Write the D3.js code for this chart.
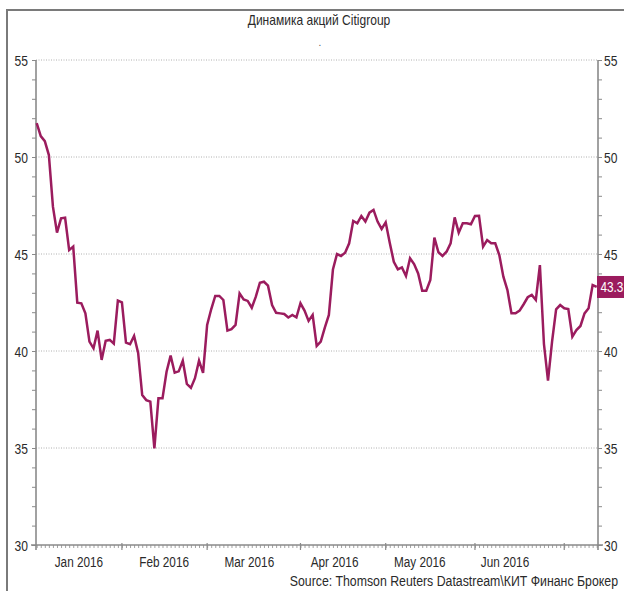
<!DOCTYPE html>
<html>
<head>
<meta charset="utf-8">
<script src="https://cdn.jsdelivr.net/npm/d3@7"></script>
<style>
  html, body { margin: 0; padding: 0; background: #fff; }
  svg { display: block; }
  text { font-family: "Liberation Sans", Arial, sans-serif; }
</style>
</head>
<body>
<svg id="chart" width="624" height="591"></svg>
<script>
// Citigroup daily close, weekdays from 1 Jan 2016 to 13 Jul 2016 (USD)
const prices = [
  51.75, 51.08, 50.82, 50.10, 47.44, 46.10, 46.84, 46.87, 45.20, 45.38,
  42.49, 42.46, 41.94, 40.48, 40.14, 41.05, 39.54, 40.53, 40.57, 40.38,
  42.60, 42.51, 40.43, 40.35, 40.78, 39.90, 37.73, 37.47, 37.39, 34.98,
  37.56, 37.56, 38.93, 39.76, 38.88, 38.95, 39.50, 38.30, 38.10, 38.60,
  39.50, 38.87, 41.34, 42.15, 42.84, 42.84, 42.63, 41.05, 41.13, 41.34,
  42.97, 42.66, 42.58, 42.23, 42.80, 43.52, 43.57, 43.37, 42.37, 41.97,
  41.94, 41.91, 41.73, 41.86, 41.73, 42.46, 42.08, 41.55, 41.86, 40.26,
  40.48, 41.20, 41.86, 44.20, 45.00, 44.90, 45.07, 45.55, 46.70, 46.58,
  46.96, 46.67, 47.13, 47.27, 46.67, 46.29, 46.63, 45.58, 44.60, 44.21,
  44.31, 43.87, 44.78, 44.48, 44.00, 43.11, 43.11, 43.66, 45.84, 45.09,
  44.90, 45.12, 45.55, 46.89, 46.10, 46.58, 46.58, 46.53, 46.96, 46.97,
  45.38, 45.72, 45.55, 45.55, 44.95, 43.83, 43.14, 41.94, 41.94, 42.08,
  42.41, 42.77, 42.89, 42.63, 44.43, 40.36, 38.47, 40.48, 42.15, 42.37,
  42.20, 42.16, 40.74, 41.08, 41.29, 41.94, 42.20, 43.40, 43.30
];
const seriesStart = new Date(2016, 0, 1);
const monthLabels = ["Jan 2016", "Feb 2016", "Mar 2016", "Apr 2016", "May 2016", "Jun 2016"];
const yTicks = [30, 35, 40, 45, 50, 55];
const titleText = "Динамика акций Citigroup";
const sourceText = "Source: Thomson Reuters Datastream\\КИТ Финанс Брокер";

// weekday calendar matching the series
const days = d3.timeDay.range(seriesStart, d3.timeDay.offset(seriesStart, 400))
  .filter(d => d.getDay() % 6 !== 0)
  .slice(0, prices.length);

const lineColor = "#9b1c5e";
const axisColor = "#8a8a8a";
const textColor = "#2a2a2a";

const svg = d3.select("#chart");
const plot = { left: 36, right: 598, top: 60, bottom: 545 };

const x = d3.scaleLinear().domain([0, prices.length - 1]).range([plot.left + 0.7, plot.right - 1.3]);
const y = d3.scaleLinear().domain([30, 55]).range([plot.bottom, plot.top]);

// condensed text: placed at (px, py), squeezed horizontally by k
function narrowText(parent, px, py, k, str) {
  return parent.append("text")
    .attr("transform", `translate(${px},${py}) scale(${k},1)`)
    .text(str);
}

// outer frame
svg.append("path")
  .attr("d", "M7,591V10H624")
  .attr("fill", "none")
  .attr("stroke", "#7a7a7a")
  .attr("stroke-width", 2);

// title and subtitle
narrowText(svg, 319, 25, 0.86, titleText)
  .attr("text-anchor", "middle").attr("font-size", 14).attr("fill", textColor);
svg.append("text").attr("x", 320).attr("y", 46).attr("text-anchor", "middle")
  .attr("font-size", 10).attr("fill", "#555").text(".");

// horizontal gridlines
svg.append("g").selectAll("line").data(yTicks.filter(v => v > 30)).join("line")
  .attr("x1", plot.left).attr("x2", plot.right)
  .attr("y1", d => y(d)).attr("y2", d => y(d))
  .attr("stroke", "#b0b0b0").attr("stroke-width", 1).attr("stroke-dasharray", "1,1.5");

// left and right value axes: unit minor ticks, labelled every 5
const yMinor = d3.range(30, 56, 1);
function valueAxis(side) {
  const ax = side === "left" ? d3.axisLeft(y) : d3.axisRight(y);
  const g = svg.append("g").attr("transform", `translate(${side === "left" ? plot.left : plot.right},0)`);
  g.call(ax.tickValues(yMinor).tickSize(4).tickFormat(""));
  g.call(gg => gg.select(".domain").remove());
  g.selectAll(".tick line").attr("stroke", axisColor).attr("stroke-width", 1);
  const lab = g.append("g");
  yTicks.forEach(v => {
    narrowText(lab, side === "left" ? -8 : 6, y(v) + 5.5, 0.78, v)
      .attr("text-anchor", side === "left" ? "end" : "start")
      .attr("font-size", 15.5).attr("fill", textColor);
  });
  g.append("line").attr("x1", 0).attr("x2", 0).attr("y1", plot.top).attr("y2", plot.bottom + 5)
    .attr("stroke", axisColor).attr("stroke-width", 1.6);
}
valueAxis("left");
valueAxis("right");

// time axis: one tick per weekday, longer tick at each month start
const idx = d3.range(prices.length);
const monthStarts = idx.filter(i => i === 0 || days[i].getMonth() !== days[i - 1].getMonth());
const xg = svg.append("g").attr("transform", `translate(0,${plot.bottom})`);
xg.call(d3.axisBottom(x).tickValues(idx).tickSize(3).tickFormat(""));
xg.select(".domain").remove();
xg.selectAll(".tick line").attr("stroke", axisColor).attr("stroke-width", 0.8);
xg.append("g").selectAll("line").data(monthStarts.slice(1)).join("line")
  .attr("x1", d => x(d)).attr("x2", d => x(d)).attr("y1", -2).attr("y2", 5)
  .attr("stroke", axisColor).attr("stroke-width", 1.2);
xg.append("line").attr("x1", plot.left - 5).attr("x2", plot.right + 5)
  .attr("stroke", axisColor).attr("stroke-width", 1.6);

// month labels, spaced by an average month of 21 weekdays
const mg = xg.append("g");
monthLabels.forEach((m, i) => {
  narrowText(mg, x(10.4 + 21 * i), 21.5, 0.76, m)
    .attr("text-anchor", "middle").attr("font-size", 15.5).attr("fill", textColor);
});

// price line
svg.append("path")
  .datum(prices)
  .attr("fill", "none")
  .attr("stroke", lineColor)
  .attr("stroke-width", 2.5)
  .attr("stroke-linejoin", "miter")
  .attr("d", d3.line().x((d, i) => x(i)).y(d => y(d)));

// last value marker on the right axis, running to the right edge
const last = prices[prices.length - 1];
const tag = svg.append("g").attr("transform", `translate(${plot.right},${y(last)})`);
tag.append("rect").attr("x", -1).attr("y", -11).attr("width", 624 - plot.right + 1).attr("height", 22).attr("fill", lineColor);
narrowText(tag, 2.5, 5.5, 0.76, last.toFixed(1))
  .attr("font-size", 15.5).attr("fill", "#fff");

// source note
narrowText(svg, 618, 586, 0.8, sourceText)
  .attr("text-anchor", "end").attr("font-size", 15.4).attr("fill", textColor);
</script>
</body>
</html>
